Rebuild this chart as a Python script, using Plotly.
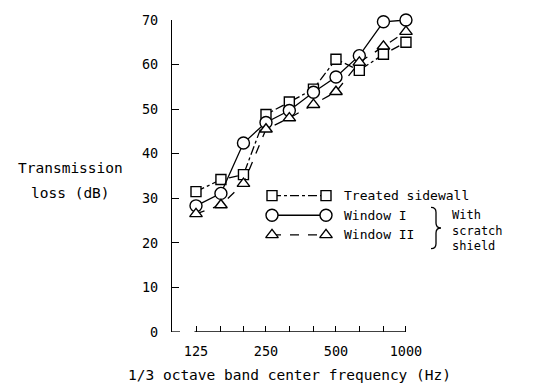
import math
import plotly.graph_objects as go

# ---- data ----
freqs = [125, 160, 200, 250, 315, 400, 500, 630, 800, 1000]
treated_sidewall = [31.5, 34.2, 35.3, 48.8, 51.6, 54.5, 61.2, 58.7, 62.3, 65.0]
window_1 = [28.3, 31.1, 42.4, 47.0, 49.7, 53.8, 57.2, 62.0, 69.6, 70.0]
window_2 = [26.5, 28.5, 33.3, 45.5, 48.0, 51.0, 53.9, 60.5, 64.1, 67.4]
x_tick_labels = ["125", "", "", "250", "", "", "500", "", "", "1000"]
y_ticks = [0, 10, 20, 30, 40, 50, 60, 70]

FONT = "DejaVu Sans Mono"
W, H = 533, 392
ML, MR, MT, MB = 172, 20, 14, 60
PW, PH = W - ML - MR, H - MT - MB
px_per_dec = 232.5
left_log = math.log10(125) - 24 / px_per_dec
right_log = left_log + PW / px_per_dec


def px(x):
    return (x - ML) / PW


def py(y):
    return (H - MB - y) / PH


fig = go.Figure()

series = [
    ("Treated sidewall", treated_sidewall, "square", "dashdot", 10),
    ("Window I", window_1, "circle", "solid", 12),
    ("Window II", window_2, "triangle-up", "dash", 11),
]
for name, vals, sym, dash, ms in series:
    fig.add_trace(go.Scatter(
        x=freqs, y=vals, mode="lines+markers", name=name,
        line=dict(color="black", width=1.3, dash=dash),
        marker=dict(symbol=sym, size=ms, color="white",
                    line=dict(color="black", width=1.4)),
        showlegend=False, cliponaxis=False,
    ))

# legend samples on overlay axes in page-pixel units
leg_rows = [193, 213, 233]
for (name, vals, sym, dash, ms), yy in zip(series, leg_rows):
    fig.add_trace(go.Scatter(
        x=[272, 326], y=[yy, yy], xaxis="x2", yaxis="y2",
        mode="lines+markers",
        line=dict(color="black", width=1.3, dash=dash),
        marker=dict(symbol=sym, size=ms, color="white",
                    line=dict(color="black", width=1.4)),
        showlegend=False, hoverinfo="skip", cliponaxis=False,
    ))
    fig.add_annotation(x=px(342), y=py(yy), xref="paper", yref="paper", text=name,
                       showarrow=False, xanchor="left", yanchor="middle",
                       font=dict(family=FONT, size=13, color="black"))

fig.add_annotation(x=px(450), y=py(204), xref="paper", yref="paper",
                   text="With<br>scratch<br>shield", align="left",
                   showarrow=False, xanchor="left", yanchor="top",
                   font=dict(family=FONT, size=12, color="black"))

# brace
fig.add_shape(type="path", xref="x2", yref="y2",
              path="M 431 205 Q 436 205 436 210 L 436 221 Q 436 226 441 226 "
                   "Q 436 226 436 231 L 436 242 Q 436 247 431 247",
              line=dict(color="black", width=1.3))

# x axis baseline from first to last band
fig.add_shape(type="line", xref="x", yref="y", x0=freqs[0] * 0.985, x1=freqs[-1],
              y0=0, y1=0, line=dict(color="black", width=1.3))
# small foot of y axis
fig.add_shape(type="line", xref="x2", yref="y2", x0=172, x1=180, y0=H - MB, y1=H - MB,
              line=dict(color="black", width=1.3))

# axis titles
fig.add_annotation(x=px(70), y=py(165), xref="paper", yref="paper", text="Transmission",
                   showarrow=False, xanchor="center", yanchor="middle",
                   font=dict(family=FONT, size=14.5, color="black"))
fig.add_annotation(x=px(70), y=py(190), xref="paper", yref="paper", text="loss (dB)",
                   showarrow=False, xanchor="center", yanchor="middle",
                   font=dict(family=FONT, size=14.5, color="black"))
fig.add_annotation(x=px(289), y=py(376), xref="paper", yref="paper",
                   text="1/3 octave band center frequency (Hz)",
                   showarrow=False, xanchor="center", yanchor="middle",
                   font=dict(family=FONT, size=14.5, color="black"))

fig.update_layout(
    width=W, height=H,
    margin=dict(l=ML, r=MR, t=MT, b=MB),
    paper_bgcolor="white", plot_bgcolor="white",
    font=dict(family=FONT, color="black"),
    xaxis=dict(type="log", range=[left_log, right_log],
               tickvals=freqs, ticktext=x_tick_labels,
               ticks="inside", ticklen=6, tickwidth=1.2, tickcolor="black",
               showline=False, showgrid=False, zeroline=False,
               tickfont=dict(family=FONT, size=13.5), ticklabelstandoff=9),
    yaxis=dict(range=[0, 70], tickvals=y_ticks,
               ticks="inside", ticklen=7, tickwidth=1.2, tickcolor="black",
               showline=True, linecolor="black", linewidth=1.3,
               showgrid=False, zeroline=False,
               tickfont=dict(family=FONT, size=13.5), ticklabelstandoff=10),
    xaxis2=dict(range=[ML, W - MR], overlaying="x", visible=False, fixedrange=True),
    yaxis2=dict(range=[H - MB, MT], overlaying="y", visible=False, fixedrange=True),
)

fig.write_html("out.html", config={"displayModeBar": False},
               post_script="document.body.style.margin='0px';document.body.style.overflow='hidden';")
